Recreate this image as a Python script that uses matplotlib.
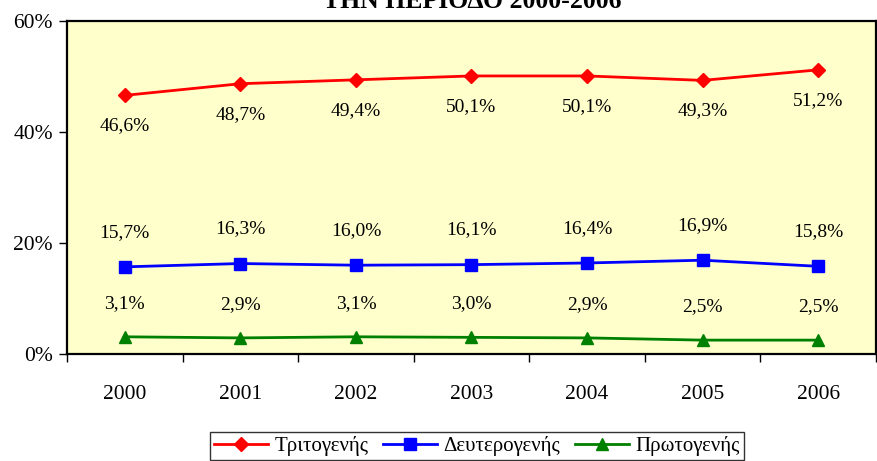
import matplotlib
matplotlib.use("Agg")
import matplotlib.pyplot as plt
from matplotlib.ticker import FixedLocator

plt.rcParams['font.family'] = ['Liberation Serif', 'DejaVu Serif']

# data (percentages)
years = ['2000', '2001', '2002', '2003', '2004', '2005', '2006']
tertiary = [46.6, 48.7, 49.4, 50.1, 50.1, 49.3, 51.2]
secondary = [15.7, 16.3, 16.0, 16.1, 16.4, 16.9, 15.8]
primary = [3.1, 2.9, 3.1, 3.0, 2.9, 2.5, 2.5]
series_names = ['Τριτογενής', 'Δευτερογενής', 'Πρωτογενής']
y_ticks = [0, 20, 40, 60]

fig = plt.figure(figsize=(8.77, 4.61), dpi=100)
ax = fig.add_axes([67 / 877, 1 - 354 / 461, (876 - 67) / 877, (354 - 21) / 461])
ax.set_facecolor('#FFFFCC')

x = list(range(len(years)))
ax.plot(x, tertiary, color='#FF0000', marker='D', markersize=7, linewidth=2, label=series_names[0])
ax.plot(x, secondary, color='#0000FF', marker='s', markersize=8, linewidth=2, label=series_names[1])
ax.plot(x, primary, color='#008000', marker='^', markersize=9, linewidth=2, label=series_names[2])

def fmt(v):
    return ('%.1f%%' % v).replace('.', ',')

# red labels sit under the line, blue and green ones above
for i, v in enumerate(tertiary):
    ax.annotate(fmt(v), (i, v), xytext=(0, -22), textcoords='offset points',
                ha='center', va='center', fontsize=14)
for i, v in enumerate(secondary):
    ax.annotate(fmt(v), (i, v), xytext=(0, 25), textcoords='offset points',
                ha='center', va='center', fontsize=14)
for i, v in enumerate(primary):
    ax.annotate(fmt(v), (i, v), xytext=(0, 24), textcoords='offset points',
                ha='center', va='center', fontsize=14)

ax.set_xlim(-0.5, len(years) - 0.5)
ax.set_ylim(0, 60)
ax.set_yticks(y_ticks)
ax.set_yticklabels(['%d%%' % t for t in y_ticks], fontsize=15.5)
ax.set_xticks(x)
ax.set_xticklabels(years, fontsize=15.5)
ax.xaxis.set_minor_locator(FixedLocator([i - 0.5 for i in range(len(years) + 1)]))
ax.tick_params(axis='x', which='major', length=0, pad=22)
ax.tick_params(axis='x', which='minor', length=6, width=1, direction='out')
ax.tick_params(axis='y', length=6, width=1, direction='out', pad=4)

for s in ax.spines.values():
    s.set_linewidth(1.6)
    s.set_color('black')

# title is cut by the top edge in the original too
fig.text(472 / 877, 1 - 8 / 461, 'ΤΗΝ ΠΕΡΙΟΔΟ 2000-2006', ha='center', va='baseline',
         fontsize=18.5, fontweight='bold')

leg = fig.legend(loc='upper center', bbox_to_anchor=(477 / 877, 1 - 432 / 461), ncol=3,
                 fontsize=15, frameon=True, fancybox=False, edgecolor='black',
                 handlelength=2.6, columnspacing=0.7, handletextpad=0.3,
                 borderpad=0.2, borderaxespad=0)
leg.get_frame().set_linewidth(1.0)

fig.savefig('out.png', dpi=100)
